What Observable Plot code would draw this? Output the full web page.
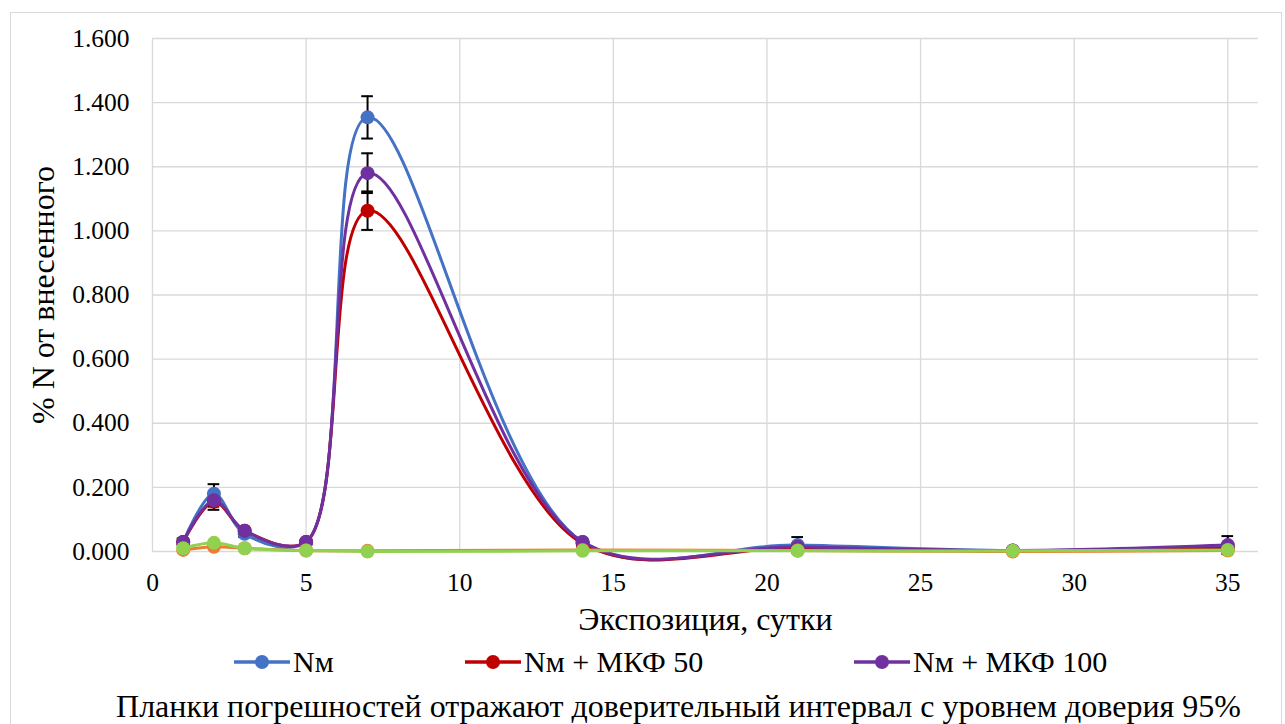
<!DOCTYPE html>
<html><head><meta charset="utf-8">
<script src="https://cdn.jsdelivr.net/npm/d3@7"></script>
<script src="https://cdn.jsdelivr.net/npm/@observablehq/plot@0.6"></script>
<style>
html,body{margin:0;padding:0;background:#fff;}
body{width:1285px;height:724px;overflow:hidden;position:relative;color:#000;font-family:'Liberation Serif';}
#frame{position:absolute;left:10px;top:12px;width:1272px;height:730px;border:1px solid #d9d9d9;box-sizing:border-box;}
#chart{position:absolute;left:0;top:0;}
#chart svg text{font-family:'Liberation Serif';}
#chart svg g[aria-label="x-axis label"] text{font-size:32px;}
#chart svg g[aria-label="y-axis label"] text{font-size:32px;}
.leg{position:absolute;top:644px;height:36px;display:flex;align-items:center;white-space:nowrap;}
.leg span{font-family:'Liberation Serif';font-size:30px;color:#000;}
.leg svg{margin-right:2px;}
#caption{position:absolute;left:0;width:1357px;top:688px;text-align:center;white-space:nowrap;font-family:'Liberation Serif';font-size:32px;color:#000;}
</style></head>
<body>
<div id="frame"></div>
<div id="chart"></div>
<div id="legend"></div>
<div id="caption"></div>
<script>
// Data
const days = [1, 2, 3, 5, 7, 14, 21, 28, 35];
const seriesNames = ["Nм", "Nм + МКФ 50", "Nм + МКФ 100", "series4", "series5"];
const seriesColors = ["#4472C4", "#C00000", "#7030A0", "#ED7D31", "#92D050"];
const nm      = [0.030, 0.180, 0.055, 0.030, 1.354, 0.030, 0.020, 0.003, 0.015];
const nm50    = [0.030, 0.155, 0.065, 0.030, 1.063, 0.025, 0.012, 0.002, 0.010];
const nm100   = [0.030, 0.160, 0.065, 0.030, 1.180, 0.030, 0.015, 0.003, 0.020];
const s4      = [0.005, 0.015, 0.010, 0.003, 0.002, 0.005, 0.003, 0.000, 0.003];
const s5      = [0.010, 0.027, 0.010, 0.003, 0.000, 0.002, 0.002, 0.002, 0.005];
const errNm    = [0.010, 0.030, 0.010, 0.005, 0.066, 0.010, 0.025, 0.003, 0.010];
const errNm50  = [0.010, 0.025, 0.010, 0.005, 0.060, 0.010, 0.010, 0.002, 0.010];
const errNm100 = [0.010, 0.020, 0.010, 0.005, 0.062, 0.010, 0.010, 0.003, 0.028];
const xTicks = [0, 5, 10, 15, 20, 25, 30, 35];
const yTicks = [0, 0.2, 0.4, 0.6, 0.8, 1.0, 1.2, 1.4, 1.6];
const legendCount = 3;
const captionText = "Планки погрешностей отражают доверительный интервал с уровнем доверия 95%";

const allValues = [nm, nm50, nm100, s4, s5];
const allErrors = [errNm, errNm50, errNm100, null, null];

const series = allValues.map((vals, i) => ({
  name: seriesNames[i],
  color: seriesColors[i],
  rows: days.map((d, j) => ({x: d, y: vals[j], e: allErrors[i] ? allErrors[i][j] : 0}))
}));

const errRows = series.flatMap(s => s.rows.filter(r => r.e > 0));

const marks = [
  Plot.gridY(yTicks, {stroke: "#d9d9d9", strokeOpacity: 1, strokeWidth: 1.3}),
  Plot.gridX(xTicks, {stroke: "#d9d9d9", strokeOpacity: 1, strokeWidth: 1.3}),
  Plot.axisY(yTicks, {tickSize: 0, tickPadding: 23, tickFormat: d3.format(".3f"), label: "% N от внесенного", labelAnchor: "center", labelArrow: "none", labelOffset: 121}),
  Plot.axisX(xTicks, {tickSize: 0, tickPadding: 21, label: "Экспозиция, сутки", labelAnchor: "center", labelArrow: "none", labelOffset: 78}),
  Plot.ruleX(errRows, {x: "x", y1: d => d.y - d.e, y2: d => d.y + d.e, stroke: "#000", strokeWidth: 2}),
  Plot.ruleY(errRows, {y: d => d.y + d.e, x1: d => d.x - 0.19, x2: d => d.x + 0.19, stroke: "#000", strokeWidth: 2}),
  Plot.ruleY(errRows, {y: d => d.y - d.e, x1: d => d.x - 0.19, x2: d => d.x + 0.19, stroke: "#000", strokeWidth: 2})
];
series.forEach(s => {
  marks.push(Plot.line(s.rows, {x: "x", y: "y", stroke: s.color, strokeWidth: 3, curve: "catmull-rom"}));
  marks.push(Plot.dot(s.rows, {x: "x", y: "y", fill: s.color, r: 7, stroke: "none"}));
});

const chart = Plot.plot({
  width: 1285,
  height: 640,
  marginLeft: 152,
  marginRight: 27,
  marginTop: 38,
  marginBottom: 89,
  style: {fontFamily: "Liberation Serif", fontSize: "25.5px", color: "#000", background: "transparent", overflow: "visible"},
  x: {domain: [0, 36]},
  y: {domain: [0, 1.6]},
  marks
});
document.getElementById("chart").appendChild(chart);

// Legend
const legendLeft = [233, 464, 853];
const legend = document.getElementById("legend");
series.slice(0, legendCount).forEach((s, i) => {
  const div = document.createElement("div");
  div.className = "leg";
  div.style.left = legendLeft[i] + "px";
  div.innerHTML = `<svg width="58" height="20"><line x1="1" y1="10" x2="57" y2="10" stroke="${s.color}" stroke-width="3.5"/><circle cx="29" cy="10" r="7" fill="${s.color}"/></svg><span>${s.name}</span>`;
  legend.appendChild(div);
});
document.getElementById("caption").textContent = captionText;
</script>
</body></html>
